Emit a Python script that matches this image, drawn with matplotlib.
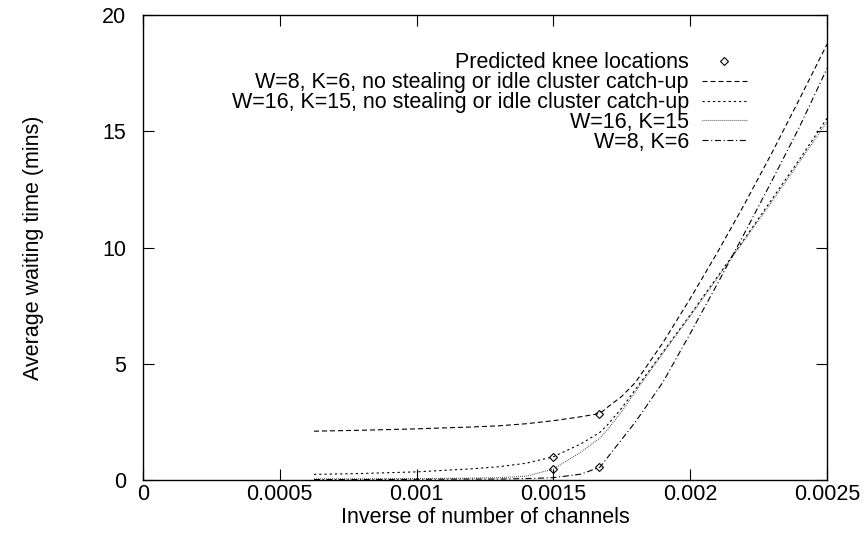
import matplotlib
matplotlib.use("Agg")
import matplotlib.pyplot as plt

plt.rcParams["font.family"] = ["Liberation Sans", "DejaVu Sans"]

# ── Data ───────────────────────────────────────────────────────────────────
inv_channels = [0.000625, 0.0008, 0.001, 0.0012, 0.0013, 0.0014, 0.0015,
                0.0016, 0.00167, 0.0017, 0.00175, 0.0018, 0.0019, 0.002,
                0.0021, 0.0022, 0.0023, 0.0024, 0.0025]

wait_w8_nosteal = [2.10, 2.14, 2.20, 2.28, 2.33, 2.42, 2.55, 2.72, 2.86, 3.15,
                   3.60, 4.20, 5.90, 7.80, 9.80, 11.90, 14.10, 16.40, 18.74]
wait_w16_nosteal = [0.24, 0.28, 0.35, 0.48, 0.57, 0.72, 1.00, 1.55, 2.05, 2.40,
                    3.10, 3.90, 5.50, 7.10, 8.75, 10.40, 12.10, 13.80, 15.56]
wait_w16 = [0.05, 0.05, 0.06, 0.08, 0.10, 0.16, 0.47, 1.20, 1.80, 2.20,
            2.95, 3.80, 5.45, 7.05, 8.70, 10.35, 12.00, 13.70, 15.40]
wait_w8 = [0.02, 0.02, 0.03, 0.04, 0.04, 0.06, 0.10, 0.25, 0.55, 1.00,
           1.75, 2.50, 4.20, 6.30, 8.45, 10.65, 12.90, 15.20, 17.70]

knee_x = [0.001667, 0.0015, 0.0015, 0.001667]
knee_y = [2.86, 1.00, 0.47, 0.55]

labels = [
    "Predicted knee locations",
    "W=8, K=6, no stealing or idle cluster catch-up",
    "W=16, K=15, no stealing or idle cluster catch-up",
    "W=16, K=15",
    "W=8, K=6",
]

x_ticks = [0, 0.0005, 0.001, 0.0015, 0.002, 0.0025]
x_ticklabels = ["0", "0.0005", "0.001", "0.0015", "0.002", "0.0025"]
y_ticks = [0, 5, 10, 15, 20]

FS = 15.5

fig = plt.figure(figsize=(8.65, 5.33), dpi=100)
ax = fig.add_axes([143 / 865, 53 / 533, 684 / 865, 465 / 533])

LW = 0.8
ax.plot(knee_x, knee_y, linestyle="none", marker="D", markersize=4.5,
        mfc="none", mec="black", mew=0.8, label=labels[0], zorder=4)
ax.plot(inv_channels, wait_w8_nosteal, color="black", lw=LW,
        dashes=(4.5, 2.7), label=labels[1])
ax.plot(inv_channels, wait_w16_nosteal, color="black", lw=LW,
        dashes=(2.0, 2.7), label=labels[2])
ax.plot(inv_channels, wait_w16, color="#333333", lw=LW,
        dashes=(0.7, 1.1), label=labels[3])
ax.plot(inv_channels, wait_w8, color="black", lw=LW,
        dashes=(5.4, 2.4, 1.0, 2.4), label=labels[4])

ax.set_xlim(0, 0.0025)
ax.set_ylim(0, 20)
ax.set_xticks(x_ticks)
ax.set_xticklabels(x_ticklabels)
ax.set_yticks(y_ticks)
ax.tick_params(direction="in", length=8, width=0.8, top=True, right=True,
               labelsize=FS)
ax.tick_params(axis="y", pad=12)
ax.tick_params(axis="x", pad=3)
for s in ax.spines.values():
    s.set_linewidth(1.0)

ax.set_xlabel("Inverse of number of channels", fontsize=FS, labelpad=1)
ax.set_ylabel("Average waiting time (mins)", fontsize=FS, labelpad=42)

leg = ax.legend(loc="upper right", bbox_to_anchor=(0.883, 0.92),
                frameon=False, markerfirst=False, alignment="right",
                fontsize=FS, handlelength=2.1, handletextpad=0.6,
                labelspacing=-0.05, borderpad=0, borderaxespad=0)

fig.savefig("out.png", dpi=100)
